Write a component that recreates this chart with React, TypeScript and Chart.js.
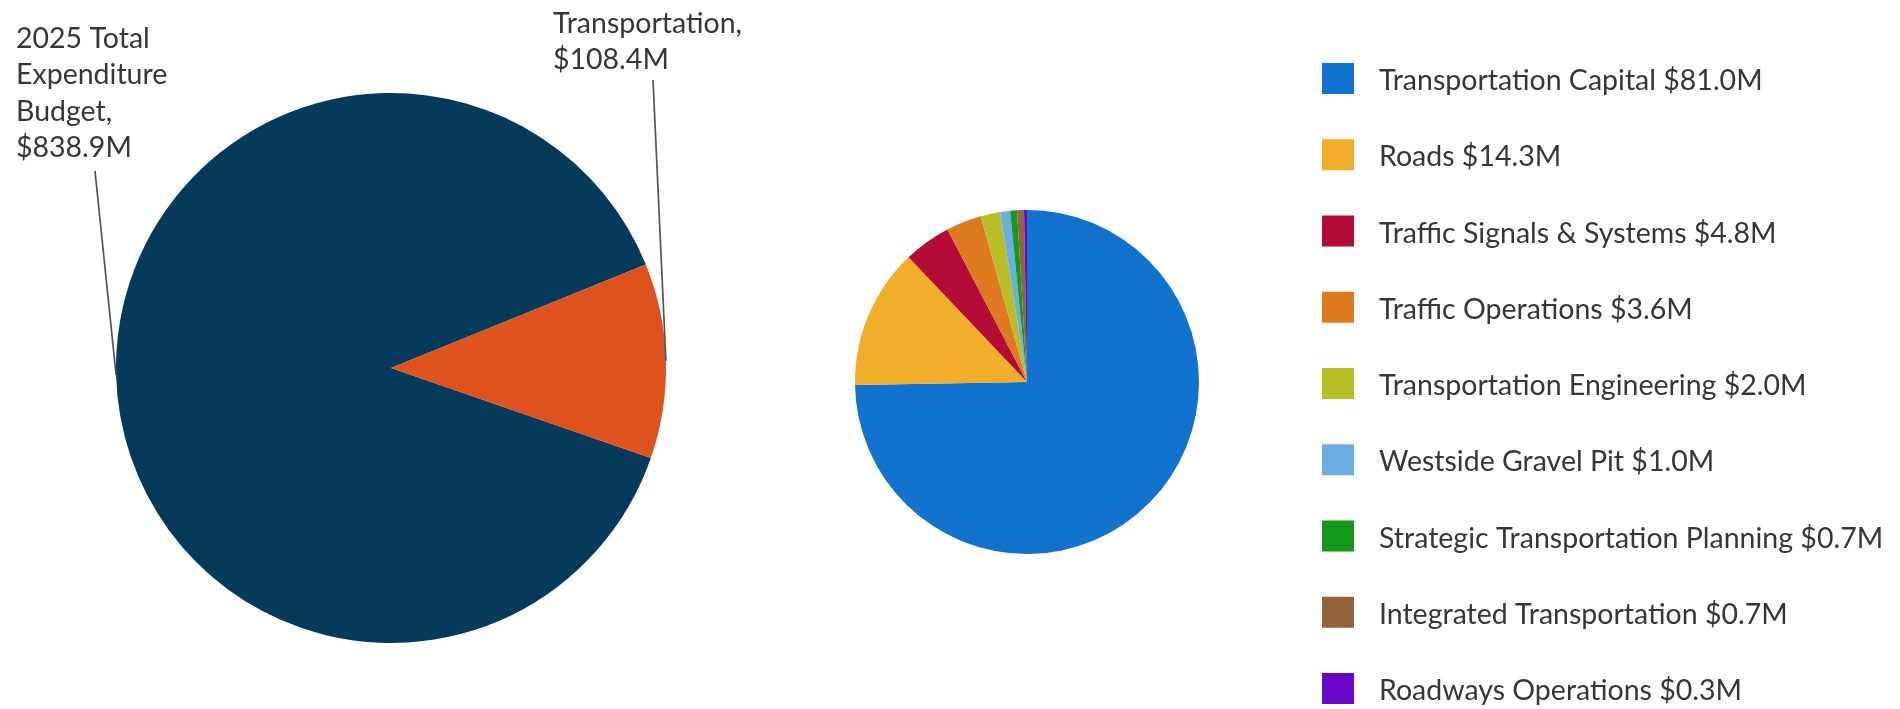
import React, { useEffect, useRef } from "react";
import { Chart, registerables } from "chart.js";

Chart.register(...registerables);

// ---- Data ----
const overviewNames = ["2025 Total Expenditure Budget", "Transportation"];
const overviewValues = [838.9, 108.4];
const overviewColors = ["#063a5b", "#de521e"];
const overviewWrapped = [["2025 Total", "Expenditure", "Budget,"], ["Transportation,"]];

const detailNames = [
  "Transportation Capital",
  "Roads",
  "Traffic Signals & Systems",
  "Traffic Operations",
  "Transportation Engineering",
  "Westside Gravel Pit",
  "Strategic Transportation Planning",
  "Integrated Transportation",
  "Roadways Operations",
];
const detailValues = [81.0, 14.3, 4.8, 3.6, 2.0, 1.0, 0.7, 0.7, 0.3];
const detailColors = [
  "#1273ce",
  "#f0ae2a",
  "#b50b37",
  "#de7b21",
  "#b8be25",
  "#6cade2",
  "#14991a",
  "#95633a",
  "#6a06c6",
];

const FONT = "Lato, 'Open Sans', sans-serif";
const TEXT_COLOR = "#363636";

const fmt = (v: number) => `$${v.toFixed(1)}M`;

// callout labels for the big pie
const calloutPlugin = {
  id: "callouts",
  afterDatasetsDraw(chart: any, _args: any, opts: any) {
    const ctx = chart.ctx;
    const meta = chart.getDatasetMeta(0);
    const anchors = opts.anchors as { x: number; y: number; lx: number; ly: number }[];
    ctx.save();
    ctx.font = `28.5px ${FONT}`;
    ctx.fillStyle = TEXT_COLOR;
    ctx.textAlign = "left";
    ctx.textBaseline = "alphabetic";
    meta.data.forEach((arc: any, i: number) => {
      const p = arc.getProps(["x", "y", "startAngle", "endAngle", "outerRadius"], true);
      const mid = (p.startAngle + p.endAngle) / 2;
      const ex = p.x + Math.cos(mid) * p.outerRadius;
      const ey = p.y + Math.sin(mid) * p.outerRadius;
      const a = anchors[i];
      const lines = [...overviewWrapped[i], fmt(overviewValues[i])];
      lines.forEach((t, k) => ctx.fillText(t, a.x, a.y + k * 36.3));
      ctx.strokeStyle = "#555555";
      ctx.lineWidth = 1.7;
      ctx.beginPath();
      ctx.moveTo(a.lx, a.ly);
      ctx.lineTo(ex, ey);
      ctx.stroke();
    });
    ctx.restore();
  },
};

// custom legend for the detail pie
const sideLegendPlugin = {
  id: "sideLegend",
  afterDraw(chart: any, _args: any, opts: any) {
    const ctx = chart.ctx;
    const ds = chart.data.datasets[0];
    ctx.save();
    ctx.font = `28.5px ${FONT}`;
    ctx.textAlign = "left";
    ctx.textBaseline = "middle";
    chart.data.labels.forEach((lab: string, i: number) => {
      const y = opts.top + i * opts.step;
      ctx.fillStyle = ds.backgroundColor[i];
      ctx.fillRect(opts.x, y, 32, 31);
      ctx.fillStyle = TEXT_COLOR;
      ctx.fillText(`${lab} ${fmt(ds.data[i])}`, opts.x + 57, y + 18);
    });
    ctx.restore();
  },
};

export default function App() {
  const leftRef = useRef<HTMLCanvasElement>(null);
  const rightRef = useRef<HTMLCanvasElement>(null);

  useEffect(() => {
    const left = new Chart(leftRef.current!, {
      type: "pie",
      data: {
        labels: overviewNames,
        datasets: [
          {
            data: overviewValues,
            backgroundColor: overviewColors,
            borderWidth: 0,
            hoverOffset: 0,
          },
        ],
      },
      options: {
        responsive: false,
        animation: false,
        rotation: 109.1,
        layout: { padding: { left: 116, right: 134, top: 93, bottom: 66 } },
        plugins: {
          legend: { display: false },
          tooltip: { enabled: false },
          callouts: {
            anchors: [
              { x: 16, y: 48, lx: 95, ly: 171 },
              { x: 553, y: 33, lx: 653, ly: 80 },
            ],
          },
        } as any,
      },
      plugins: [calloutPlugin],
    });

    const right = new Chart(rightRef.current!, {
      type: "pie",
      data: {
        labels: detailNames,
        datasets: [
          {
            data: detailValues,
            backgroundColor: detailColors,
            borderWidth: 0,
            hoverOffset: 0,
          },
        ],
      },
      options: {
        responsive: false,
        animation: false,
        layout: { padding: { left: 55, right: 701, top: 210, bottom: 155 } },
        plugins: {
          legend: { display: false },
          tooltip: { enabled: false },
          sideLegend: { x: 522, top: 63, step: 76.25 },
        } as any,
      },
      plugins: [sideLegendPlugin],
    });

    return () => {
      left.destroy();
      right.destroy();
    };
  }, []);

  return (
    <div
      style={{
        position: "absolute",
        left: 0,
        top: 0,
        width: 1900,
        height: 709,
        background: "#ffffff",
      }}
    >
      <canvas
        ref={leftRef}
        width={800}
        height={709}
        style={{ position: "absolute", left: 0, top: 0, width: 800, height: 709 }}
      />
      <canvas
        ref={rightRef}
        width={1100}
        height={709}
        style={{ position: "absolute", left: 800, top: 0, width: 1100, height: 709 }}
      />
    </div>
  );
}
